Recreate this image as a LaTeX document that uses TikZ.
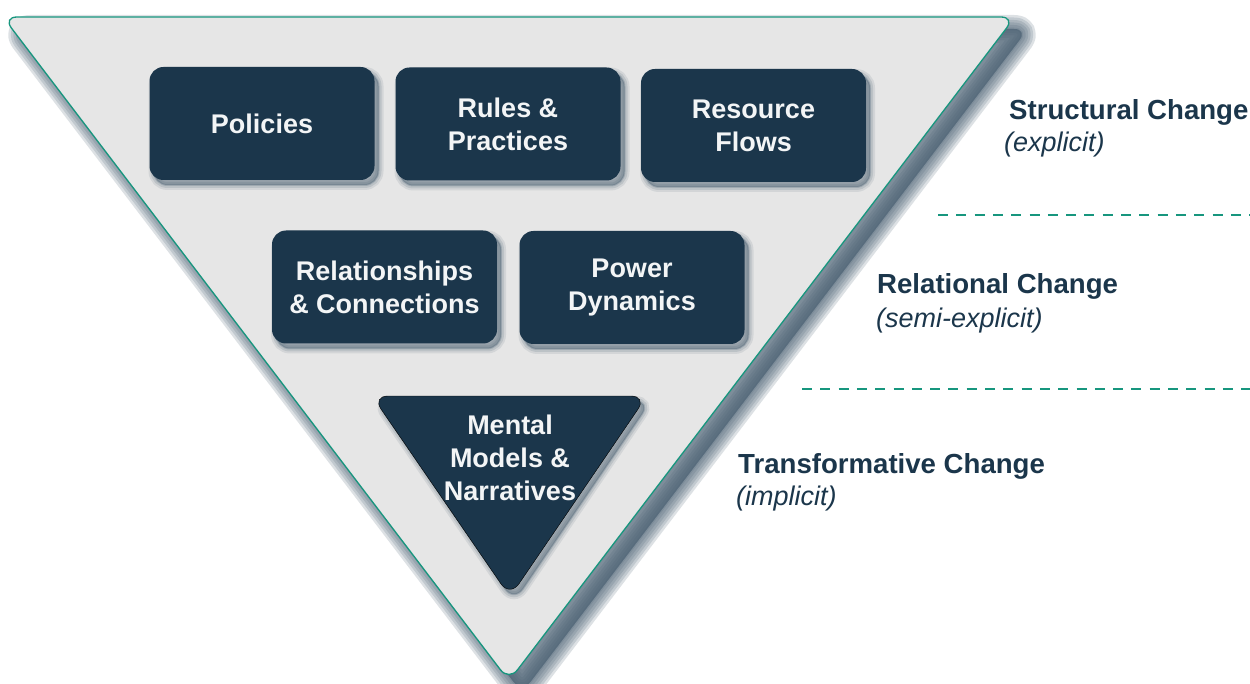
\documentclass[tikz,border=0pt]{standalone}
\usepackage{fontspec}
\setmainfont{Liberation Sans}
\definecolor{navy}{HTML}{1B364B}
\definecolor{bgray}{HTML}{E6E6E6}
\definecolor{teal}{HTML}{17967E}
\definecolor{shc}{HTML}{4A6072}
\definecolor{txtw}{HTML}{F3F5F6}
\tikzset{
  boxshadow/.style={
    preaction={draw=shc, fill=shc, opacity=0.12, line width=10pt, transform canvas={xshift=4pt,yshift=-5pt}},
    preaction={draw=shc, fill=shc, opacity=0.16, line width=6pt, transform canvas={xshift=4pt,yshift=-5pt}},
    preaction={draw=shc, fill=shc, opacity=0.25, line width=2pt, transform canvas={xshift=4pt,yshift=-5pt}}},
  factor/.style={boxshadow, fill=navy, rounded corners=14pt, minimum width=225pt, minimum height=113pt,
    inner sep=0pt, align=center, text=txtw, font=\bfseries\fontsize{27}{33}\selectfont},
  lvl/.style={anchor=west, inner sep=0pt, text=navy, font=\bfseries\fontsize{27.6}{32}\selectfont},
  lvlsub/.style={anchor=west, inner sep=0pt, text=navy, font=\itshape\fontsize{27}{32}\selectfont},
  sep/.style={draw=teal, line width=2.6pt, dash pattern=on 10pt off 8.3pt}
}
\begin{document}
\begin{tikzpicture}[x=1pt, y=-1pt]
\useasboundingbox (0,0) rectangle (1250,684);
% big triangle shadow
\foreach \w in {28,23,18,13,8,3} {
  \draw[draw=shc, fill=shc, opacity=0.19, line width=\w pt, line join=round, rounded corners=14pt]
    (16,29) -- (1028,29) -- (522,693) -- cycle;
}
% big triangle
\draw[fill=bgray, draw=teal, line width=1.3pt, rounded corners=14pt]
  (3,17) -- (1015,17) -- (509,681) -- cycle;
% row 1
\node[factor] (policies) at (262,123.5) {Policies};
\node[factor] (rules) at (508,124) {Rules \&\\Practices};
\node[factor] (resource) at (753.5,125.5) {Resource\\Flows};
% row 2
\node[factor] (relations) at (384.5,287) {Relationships\\\& Connections};
\node[factor] (power) at (632,287.5) {Power\\Dynamics};
% inner triangle
\draw[boxshadow, fill=navy, rounded corners=16pt] (372,396) -- (647,396) -- (510,597) -- cycle;
\node[align=center, inner sep=0pt, text=txtw, font=\bfseries\fontsize{27}{33}\selectfont] (mental) at (510,458) {Mental\\Models \&\\Narratives};
% labels
\node[lvl] (structural) at (1009,112) {Structural Change};
\node[lvlsub] (explicit) at (1004,144.5) {(explicit)};
\node[lvl] (relational) at (877,286.5) {Relational Change};
\node[lvlsub] (semi) at (876,320.5) {(semi-explicit)};
\node[lvl] (transform) at (738,466) {Transformative Change};
\node[lvlsub] (implicit) at (736,498.5) {(implicit)};
% separators
\coordinate (s1a) at (938,215);
\coordinate (s1b) at (1250,215);
\coordinate (s2a) at (802,389);
\coordinate (s2b) at (1250,389);
\draw[sep] (s1a) -- (s1b);
\draw[sep] (s2a) -- (s2b);
\end{tikzpicture}
\end{document}
